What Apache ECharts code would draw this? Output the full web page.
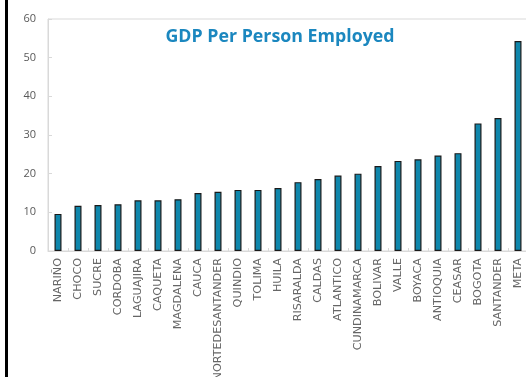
<!DOCTYPE html>
<html>
<head>
<meta charset="utf-8">
<style>
  html, body { margin: 0; padding: 0; background: #fff; }
  #chart { width: 526px; height: 377px; }
</style>
<script src="https://cdn.jsdelivr.net/npm/echarts@6/dist/echarts.min.js"></script>
</head>
<body>
<div id="chart"></div>
<script>
// Departments of Colombia, ordered from lowest to highest
const departments = [
  'NARIÑO', 'CHOCO', 'SUCRE', 'CORDOBA', 'LAGUAJIRA', 'CAQUETA',
  'MAGDALENA', 'CAUCA', 'NORTEDESANTANDER', 'QUINDIO', 'TOLIMA', 'HUILA',
  'RISARALDA', 'CALDAS', 'ATLANTICO', 'CUNDINAMARCA', 'BOLIVAR', 'VALLE',
  'BOYACA', 'ANTIOQUIA', 'CEASAR', 'BOGOTA', 'SANTANDER', 'META'
];

// GDP per person employed
const gdpPerWorker = [
  9.6, 11.7, 11.9, 12.1, 13.1, 13.1,
  13.4, 15.0, 15.3, 15.8, 15.8, 16.3,
  17.8, 18.6, 19.5, 20.0, 22.0, 23.3,
  23.7, 24.7, 25.3, 33.0, 34.4, 54.3
];

// Value axis ticks
const yTicks = { min: 0, max: 60, interval: 10 };

const chart = echarts.init(document.getElementById('chart'), null, { renderer: 'canvas' });

chart.setOption({
  animation: false,
  backgroundColor: '#ffffff',
  title: {
    text: 'GDP Per Person Employed',
    left: 275,
    top: 23,
    textAlign: 'center',
    textStyle: {
      fontFamily: '"Open Sans", sans-serif',
      fontWeight: 'bold',
      fontSize: 17.8,
      color: '#1b87bf'
    }
  },
  graphic: [
    {
      type: 'rect',
      shape: { x: 5, y: 0, width: 3, height: 377 },
      style: { fill: '#000000' },
      silent: true
    }
  ],
  grid: {
    left: 48,
    top: 19,
    width: 480,
    height: 232,
    show: true,
    borderColor: '#d9d9d9',
    borderWidth: 1,
    containLabel: false,
    outerBoundsMode: 'none'
  },
  xAxis: {
    type: 'category',
    data: departments,
    axisLine: { show: true, lineStyle: { color: '#d9d9d9', width: 1 } },
    axisTick: { show: true, inside: true, length: 3, alignWithLabel: false, lineStyle: { color: '#d9d9d9' } },
    axisLabel: {
      rotate: 90,
      interval: 0,
      margin: 7,
      fontFamily: '"DejaVu Sans", sans-serif',
      fontSize: 11.2,
      color: '#666666'
    },
    splitLine: { show: false }
  },
  yAxis: {
    type: 'value',
    min: yTicks.min,
    max: yTicks.max,
    interval: yTicks.interval,
    axisLine: { show: true, lineStyle: { color: '#d9d9d9', width: 1 } },
    axisTick: { show: true, inside: true, length: 4, lineStyle: { color: '#d9d9d9' } },
    axisLabel: {
      margin: 12,
      fontFamily: '"Open Sans", sans-serif',
      fontSize: 11,
      color: '#595959'
    },
    splitLine: { show: false }
  },
  series: [
    {
      type: 'bar',
      data: gdpPerWorker,
      barWidth: 7,
      itemStyle: {
        color: '#0f86ab',
        borderColor: '#1a1a1a',
        borderWidth: 1.2
      }
    }
  ]
});
</script>
</body>
</html>
